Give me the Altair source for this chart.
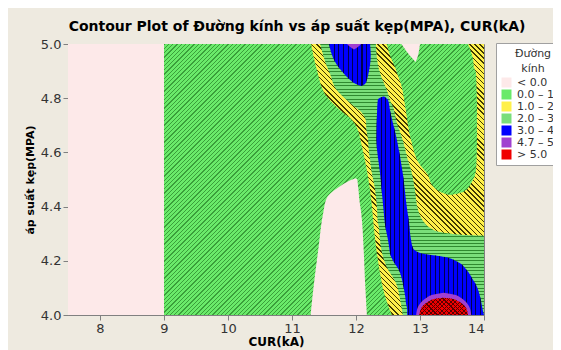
import math
import altair as alt
import pandas as pd

# ---------------- values ----------------
# axis ranges
cur_range = [7.5, 14.0]          # CUR(kA)
pres_range = [4.0, 5.0]          # áp suất kẹp(MPA)
x_ticks = [8, 9, 10, 11, 12, 13, 14]
y_ticks = [4.0, 4.2, 4.4, 4.6, 4.8, 5.0]

# contour classes (legend) and their colours
level_labels = [
    "\u2007\u2008\u2007 < 0.0",
    "0.0 \u2013 1.0",
    "1.0 \u2013 2.0",
    "2.0 \u2013 3.0",
    "3.0 \u2013 4.7",
    "4.7 \u2013 5.0",
    "\u2007\u2008\u2007 > 5.0",
]
level_colors = ["#fde9e9", "#6aea6a", "#fff04a", "#7ade7a", "#0000ff", "#a040d0", "#f00000"]
# hatch of each class: list of (direction, line colour, period px, line width px)
level_hatch = [
    [],
    [("/", "#3a9f3a", 3.0, 0.9)],
    [("\\", "#403a00", 3.6, 1.0)],
    [("-", "#2f8a2f", 3.4, 1.0)],
    [("|", "#000050", 4.4, 1.0)],
    [],
    [("/", "#5a0000", 3.0, 0.8), ("\\", "#5a0000", 3.0, 0.8)],
]

# contour regions: for each pressure y, left and right CUR boundary
# class < 0 (whole background)
pink_bg_y = [4.0, 5.0]
pink_bg_xl = [7.5, 7.5]
pink_bg_xr = [14.0, 14.0]

# class 0-1
green_y = [4.0, 5.0]
green_xl = [9.0, 9.0]
green_xr = [14.0, 14.0]

# class < 0, bump at bottom
pink_bump_y = [4.0, 4.13, 4.24, 4.38, 4.43, 4.46, 4.48, 4.50, 4.505]
pink_bump_xl = [11.29, 11.35, 11.41, 11.49, 11.54, 11.66, 11.78, 11.94, 11.99]
pink_bump_xr = [12.17, 12.14, 12.12, 12.08, 12.05, 12.04, 12.03, 12.02, 11.99]

# class >= 1
yellow_y = [4.0, 4.081, 4.155, 4.277, 4.461, 4.572, 4.635, 4.683, 4.72, 4.756, 4.804, 4.904, 5.0]
yellow_xl = [12.56, 12.44, 12.375, 12.30, 12.22, 12.14, 12.08, 12.03, 11.94, 11.75, 11.55, 11.39, 11.30]
yellow_xr = [14.0, 14.0, 14.0, 14.0, 14.0, 14.0, 14.0, 14.0, 14.0, 14.0, 14.0, 14.0, 14.0]

# class 0-1, upper right pocket
hole_y = [5.0, 4.941, 4.915, 4.893, 4.856, 4.768, 4.646, 4.554, 4.517, 4.48, 4.461, 4.45, 4.443]
hole_xl = [12.48, 12.56, 12.61, 12.64, 12.70, 12.77, 12.86, 13.00, 13.125, 13.19, 13.27, 13.36, 13.47]
hole_xr = [13.75, 13.83, 13.84, 13.875, 13.88, 13.89, 13.89, 13.88, 13.86, 13.78, 13.72, 13.625, 13.47]

# class < 0, small patch at top
pink_top_y = [5.0, 4.97, 4.95, 4.934]
pink_top_xl = [12.71, 12.80, 12.87, 12.93]
pink_top_xr = [13.0, 12.98, 12.96, 12.93]

# class >= 2
lg_y = [5.0, 4.915, 4.893, 4.83, 4.782, 4.768, 4.749, 4.708, 4.694, 4.646, 4.609, 4.572, 4.535,
        4.461, 4.387, 4.343, 4.321, 4.306, 4.295, 4.292, 4.277, 4.177, 4.118, 4.044, 4.0]
lg_xl = [11.44, 11.55, 11.59, 11.70, 11.91, 11.98, 12.08, 12.16, 12.16, 12.19, 12.20, 12.22, 12.24,
         12.30, 12.33, 12.34, 12.36, 12.36, 12.37, 12.37, 12.375, 12.48, 12.625, 12.70, 12.73]
lg_xr = [12.31, 12.35, 12.375, 12.48, 12.55, 12.58, 12.60, 12.64, 12.66, 12.73, 12.77, 12.81, 12.86,
         12.92, 12.97, 13.06, 13.16, 13.31, 13.70, 14.0, 14.0, 14.0, 14.0, 14.0, 14.0]

# class >= 3, top blob
blue_top_y = [5.0, 4.959, 4.923, 4.886, 4.867, 4.852, 4.845]
blue_top_xl = [11.58, 11.625, 11.70, 11.83, 11.91, 12.00, 12.08]
blue_top_xr = [12.22, 12.23, 12.22, 12.19, 12.17, 12.14, 12.08]

# class >= 3, column and bottom right
blue_y = [4.806, 4.801, 4.793, 4.756, 4.646, 4.524, 4.387, 4.339, 4.277, 4.247, 4.229, 4.214, 4.196,
          4.166, 4.129, 4.118, 4.066, 4.044, 4.018, 4.0]
blue_xl = [12.43, 12.37, 12.34, 12.33, 12.32, 12.375, 12.43, 12.45, 12.50, 12.52, 12.53, 12.55, 12.59,
           12.67, 12.72, 12.73, 12.77, 12.78, 12.80, 12.80]
blue_xr = [12.44, 12.47, 12.50, 12.53, 12.64, 12.73, 12.80, 12.83, 12.86, 12.89, 13.0, 13.39, 13.59,
           13.73, 13.83, 13.86, 13.94, 13.96, 13.98, 14.0]

# class >= 4.7
purple_top_y = [5.0, 4.989, 4.98]
purple_top_xl = [11.86, 11.91, 11.97]
purple_top_xr = [12.08, 12.03, 11.97]

purple_y = [4.0, 4.03, 4.05, 4.065, 4.075, 4.082]
purple_xl = [12.94, 12.97, 13.03, 13.11, 13.20, 13.37]
purple_xr = [13.80, 13.77, 13.71, 13.63, 13.54, 13.37]

# class > 5
red_y = [4.0, 4.025, 4.04, 4.052, 4.06, 4.064]
red_xl = [12.99, 13.02, 13.07, 13.15, 13.24, 13.37]
red_xr = [13.75, 13.72, 13.67, 13.59, 13.50, 13.37]

regions = [
    (0, pink_bg_y, pink_bg_xl, pink_bg_xr),
    (1, green_y, green_xl, green_xr),
    (0, pink_bump_y, pink_bump_xl, pink_bump_xr),
    (2, yellow_y, yellow_xl, yellow_xr),
    (1, hole_y, hole_xl, hole_xr),
    (0, pink_top_y, pink_top_xl, pink_top_xr),
    (3, lg_y, lg_xl, lg_xr),
    (4, blue_top_y, blue_top_xl, blue_top_xr),
    (4, blue_y, blue_xl, blue_xr),
    (5, purple_top_y, purple_top_xl, purple_top_xr),
    (5, purple_y, purple_xl, purple_xr),
    (6, red_y, red_xl, red_xr),
]

# ---------------- layout / style ----------------
FONT = "DejaVu Sans"
PLOT_W, PLOT_H = 416, 271
PX_PER_X = PLOT_W / (cur_range[1] - cur_range[0])
PX_PER_Y = PLOT_H / (pres_range[1] - pres_range[0])
CLEAR = "rgba(0,0,0,0)"


def hatch_gradient(direction, line_color, period, width, w_px, h_px):
    """Striped fill (Minitab hatch) as a linear gradient in bounding-box units."""
    w_px = max(w_px, 1.0)
    h_px = max(h_px, 1.0)
    if direction == "-":
        geom = dict(x1=0, y1=0, x2=0, y2=1)
        length = h_px
    elif direction == "|":
        geom = dict(x1=0, y1=0, x2=1, y2=0)
        length = w_px
    else:
        k = (w_px + h_px) / (w_px ** 2 + h_px ** 2)
        a, b = w_px * k, h_px * k
        if direction == "/":
            geom = dict(x1=0, y1=0, x2=a, y2=b)
        else:
            geom = dict(x1=0, y1=1, x2=a, y2=1 - b)
        length = (w_px + h_px) / math.sqrt(2)
    n = max(int(length / period), 1)
    frac = min(width / period, 0.9)
    stops = []
    for i in range(n):
        o0 = i / n
        o1 = (i + frac) / n
        o2 = (i + 1) / n
        stops += [
            alt.GradientStop(offset=o0, color=line_color),
            alt.GradientStop(offset=o1, color=line_color),
            alt.GradientStop(offset=o1, color=CLEAR),
            alt.GradientStop(offset=o2, color=CLEAR),
        ]
    return alt.LinearGradient(gradient="linear", stops=stops, **geom)


x_enc = alt.X("xl:Q", scale=alt.Scale(domain=cur_range, nice=False, zero=False),
              axis=alt.Axis(values=x_ticks, format="d", title="CUR(kA)"))
y_enc = alt.Y("y:Q", scale=alt.Scale(domain=pres_range, nice=False, zero=False),
              axis=alt.Axis(values=y_ticks, format=".1f", title="áp suất kẹp(MPA)"))
color_enc = alt.Color(
    "level:N",
    scale=alt.Scale(domain=level_labels, range=level_colors),
    legend=alt.Legend(
        title=["Đường", "kính"], orient="none", legendX=428, legendY=-1,
        symbolType="square", symbolSize=100, symbolStrokeWidth=0,
        labelFont=FONT, labelFontSize=11, labelColor="#333333", labelOffset=5,
        titleFont=FONT, titleFontSize=11, titleFontWeight="normal", titleColor="#333333",
        titleAlign="center", titleAnchor="middle", titleLineHeight=15, titlePadding=3,
        fillColor="white", strokeColor="#a0a0a0", padding=5, rowPadding=0,
    ),
)

layers = []
for lev, ys, xls, xrs in regions:
    df = pd.DataFrame({"y": ys, "xl": xls, "xr": xrs, "level": level_labels[lev]})
    base = alt.Chart(df)
    layers.append(
        base.mark_area(orient="horizontal", interpolate="monotone", clip=True)
        .encode(y=y_enc, x=x_enc, x2="xr:Q", color=color_enc)
    )
    w_px = (max(xrs) - min(xls)) * PX_PER_X
    h_px = (max(ys) - min(ys)) * PX_PER_Y
    for h in level_hatch[lev]:
        grad = hatch_gradient(h[0], h[1], h[2], h[3], w_px, h_px)
        layers.append(
            base.mark_area(orient="horizontal", interpolate="monotone", clip=True, fill=grad)
            .encode(y=y_enc, x=x_enc, x2="xr:Q")
        )

chart = (
    alt.layer(*layers)
    .properties(
        width=PLOT_W, height=PLOT_H,
        title=alt.TitleParams(
            text="Contour Plot of Đường kính vs áp suất kẹp(MPA), CUR(kA)",
            font=FONT, fontSize=14, fontWeight="bold", color="black",
            anchor="middle", frame="group", dx=21, offset=4,
        ),
        background="#eeeae0",
        padding={"left": 60, "top": 36, "right": 69, "bottom": 35},
        autosize=alt.AutoSizeParams(type="none"),
    )
    .configure_view(stroke="#808080", strokeWidth=1)
    .configure_axis(
        grid=False, domainColor="#808080", tickColor="#808080", tickSize=5,
        labelFont=FONT, labelFontSize=13, labelColor="#333333", labelPadding=2,
        titleFont=FONT, titleFontWeight="bold", titleColor="black",
    )
    .configure_axisX(titleFontSize=12, titlePadding=1)
    .configure_axisY(titleFontSize=11, titlePadding=5)
)

chart.save("out.html", embed_options={"renderer": "svg", "actions": False})
